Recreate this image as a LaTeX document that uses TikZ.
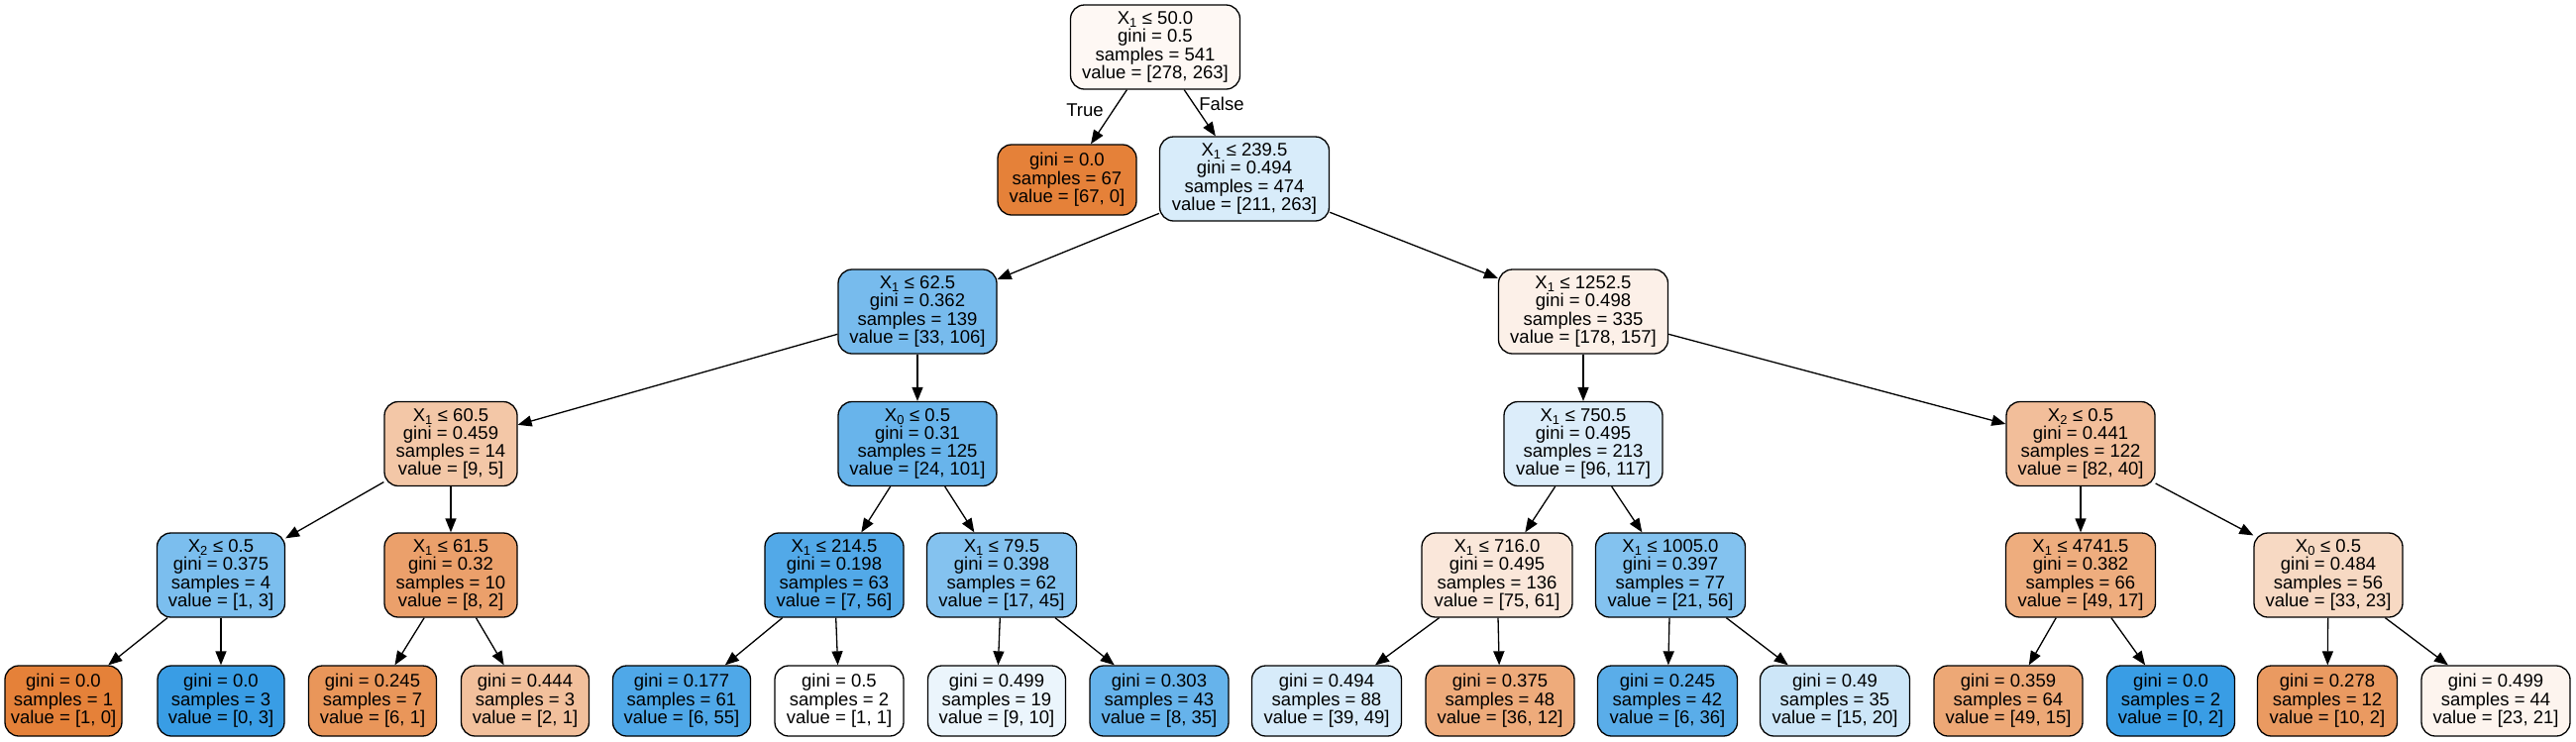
\documentclass[tikz,border=0pt]{standalone}
\usepackage{fontspec}
\setmainfont{Liberation Sans}
\usetikzlibrary{arrows.meta}
\definecolor{org}{RGB}{229,129,57}
\definecolor{blu}{RGB}{57,157,229}
\newcommand\nodefont{\fontsize{18.5}{18.3}\selectfont}
\newcommand\Xs[1]{X\textsubscript{#1}}
\begin{document}
\begin{tikzpicture}[x=1pt,y=-1pt,
 box/.style={draw=black, line width=1.3pt, rounded corners=14pt, align=center, inner xsep=3pt, inner ysep=0pt, font=\nodefont, text=black},
 split/.style={box, minimum height=85pt},
 leaf/.style={box, minimum height=71pt},
 edge/.style={line width=1.3pt, -{Triangle[length=14pt,width=11pt]}},
 lbl/.style={font=\nodefont, inner sep=0pt}]
\useasboundingbox (0,0) rectangle (2600,748);
% level 0
\node[split, minimum width=171pt, fill=org!5.4!white] (n0) at (1166,47.5) {\Xs{1} ≤ 50.0\\gini = 0.5\\samples = 541\\value = [278, 263]};
% level 1
\node[leaf, minimum width=140pt, fill=org] (n1) at (1077,181.5) {gini = 0.0\\samples = 67\\value = [67, 0]};
\node[split, minimum width=171pt, fill=blu!19.8!white] (n2) at (1256,180.5) {\Xs{1} ≤ 239.5\\gini = 0.494\\samples = 474\\value = [211, 263]};
% level 2
\node[split, minimum width=160pt, fill=blu!68.9!white] (n3) at (926,314.5) {\Xs{1} ≤ 62.5\\gini = 0.362\\samples = 139\\value = [33, 106]};
\node[split, minimum width=171pt, fill=org!11.8!white] (n4) at (1598,314.5) {\Xs{1} ≤ 1252.5\\gini = 0.498\\samples = 335\\value = [178, 157]};
% level 3
\node[split, minimum width=134pt, fill=org!44.4!white] (n5) at (455,448) {\Xs{1} ≤ 60.5\\gini = 0.459\\samples = 14\\value = [9, 5]};
\node[split, minimum width=160pt, fill=blu!76.2!white] (n6) at (926,448) {\Xs{0} ≤ 0.5\\gini = 0.31\\samples = 125\\value = [24, 101]};
\node[split, minimum width=160pt, fill=blu!17.9!white] (n7) at (1598,448) {\Xs{1} ≤ 750.5\\gini = 0.495\\samples = 213\\value = [96, 117]};
\node[split, minimum width=150pt, fill=org!51.2!white] (n8) at (2100,448) {\Xs{2} ≤ 0.5\\gini = 0.441\\samples = 122\\value = [82, 40]};
% level 4
\node[split, minimum width=129pt, fill=blu!66.7!white] (n9) at (223,580.5) {\Xs{2} ≤ 0.5\\gini = 0.375\\samples = 4\\value = [1, 3]};
\node[split, minimum width=134pt, fill=org!75!white] (n10) at (455,580.5) {\Xs{1} ≤ 61.5\\gini = 0.32\\samples = 10\\value = [8, 2]};
\node[split, minimum width=140pt, fill=blu!87.5!white] (n11) at (842,580.5) {\Xs{1} ≤ 214.5\\gini = 0.198\\samples = 63\\value = [7, 56]};
\node[split, minimum width=151pt, fill=blu!62.2!white] (n12) at (1011,580.5) {\Xs{1} ≤ 79.5\\gini = 0.398\\samples = 62\\value = [17, 45]};
\node[split, minimum width=152pt, fill=org!18.7!white] (n13) at (1511,580.5) {\Xs{1} ≤ 716.0\\gini = 0.495\\samples = 136\\value = [75, 61]};
\node[split, minimum width=151pt, fill=blu!62.5!white] (n14) at (1686,580.5) {\Xs{1} ≤ 1005.0\\gini = 0.397\\samples = 77\\value = [21, 56]};
\node[split, minimum width=151pt, fill=org!65.3!white] (n15) at (2100,580.5) {\Xs{1} ≤ 4741.5\\gini = 0.382\\samples = 66\\value = [49, 17]};
\node[split, minimum width=150pt, fill=org!30.3!white] (n16) at (2350,580.5) {\Xs{0} ≤ 0.5\\gini = 0.484\\samples = 56\\value = [33, 23]};
% level 5 leaves
\node[leaf, minimum width=118pt, fill=org] (l1) at (64,707.5) {gini = 0.0\\samples = 1\\value = [1, 0]};
\node[leaf, minimum width=128pt, fill=blu] (l2) at (223,707.5) {gini = 0.0\\samples = 3\\value = [0, 3]};
\node[leaf, minimum width=129pt, fill=org!83.3!white] (l3) at (376,707.5) {gini = 0.245\\samples = 7\\value = [6, 1]};
\node[leaf, minimum width=129pt, fill=org!50!white] (l4) at (530,707.5) {gini = 0.444\\samples = 3\\value = [2, 1]};
\node[leaf, minimum width=139pt, fill=blu!89.1!white] (l5) at (688,707.5) {gini = 0.177\\samples = 61\\value = [6, 55]};
\node[leaf, minimum width=130pt, fill=white] (l6) at (847,707.5) {gini = 0.5\\samples = 2\\value = [1, 1]};
\node[leaf, minimum width=139pt, fill=blu!10!white] (l7) at (1006,707.5) {gini = 0.499\\samples = 19\\value = [9, 10]};
\node[leaf, minimum width=140pt, fill=blu!77.1!white] (l8) at (1170,707.5) {gini = 0.303\\samples = 43\\value = [8, 35]};
\node[leaf, minimum width=151pt, fill=blu!20.4!white] (l9) at (1339,707.5) {gini = 0.494\\samples = 88\\value = [39, 49]};
\node[leaf, minimum width=150pt, fill=org!66.7!white] (l10) at (1514,707.5) {gini = 0.375\\samples = 48\\value = [36, 12]};
\node[leaf, minimum width=141pt, fill=blu!83.3!white] (l11) at (1683,707.5) {gini = 0.245\\samples = 42\\value = [6, 36]};
\node[leaf, minimum width=151pt, fill=blu!25!white] (l12) at (1852,707.5) {gini = 0.49\\samples = 35\\value = [15, 20]};
\node[leaf, minimum width=150pt, fill=org!69.4!white] (l13) at (2027,707.5) {gini = 0.359\\samples = 64\\value = [49, 15]};
\node[leaf, minimum width=129pt, fill=blu] (l14) at (2191,707.5) {gini = 0.0\\samples = 2\\value = [0, 2]};
\node[leaf, minimum width=141pt, fill=org!80!white] (l15) at (2349,707.5) {gini = 0.278\\samples = 12\\value = [10, 2]};
\node[leaf, minimum width=150pt, fill=org!8.7!white] (l16) at (2519,707.5) {gini = 0.499\\samples = 44\\value = [23, 21]};
% labels
\node[lbl] (tl) at (1095,111) {True};
\node[lbl] (fl) at (1233,105) {False};
% edges
\foreach \a/\b in {n0/n1,n0/n2,n2/n3,n2/n4,n3/n5,n3/n6,n4/n7,n4/n8,
  n5/n9,n5/n10,n6/n11,n6/n12,n7/n13,n7/n14,n8/n15,n8/n16,
  n9/l1,n9/l2,n10/l3,n10/l4,n11/l5,n11/l6,n12/l7,n12/l8,
  n13/l9,n13/l10,n14/l11,n14/l12,n15/l13,n15/l14,n16/l15,n16/l16}
  \draw[edge] (\a) -- (\b);
\end{tikzpicture}
\end{document}
